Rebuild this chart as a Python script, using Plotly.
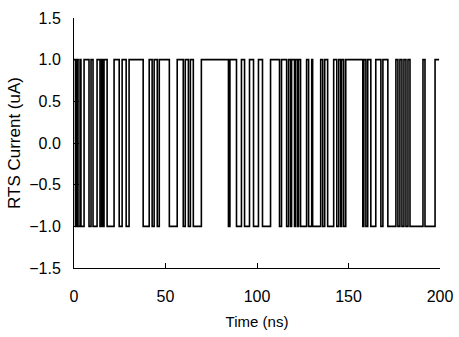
import plotly.graph_objects as go

# Switching times of the random telegraph signal (ns); level alternates starting at +1
switch_times = [0.0, 0.8, 1.4, 2.2, 3.3, 3.8, 5.5, 8.2, 9.3, 10.4, 12.6, 14.2, 15.1, 15.9,
                16.4, 18.1, 21.9, 24.7, 26.3, 28.5, 30.1, 37.8, 41.1, 42.7, 43.8, 45.5,
                46.6, 52.1, 56.4, 59.7, 60.8, 62.5, 63.6, 65.2, 69.6, 84.4, 85.2, 88.8,
                91.5, 93.2, 95.9, 98.1, 100.8, 103.0, 107.4, 112.3, 113.4, 116.2, 117.3,
                118.4, 118.9, 120.5, 121.1, 122.2, 122.7, 123.8, 127.1, 128.2, 129.9,
                130.4, 134.8, 135.9, 137.0, 138.6, 141.9, 143.6, 144.7, 145.8, 146.3,
                147.4, 148.5, 157.8, 158.4, 159.5, 160.5, 162.2, 164.9, 167.7, 168.8,
                171.5, 175.9, 177.0, 178.1, 179.2, 180.3, 181.4, 182.5, 183.6, 190.7,
                191.8, 197.3]
end_time = 199.5
levels = [1.0, -1.0]

x_tick_vals = [0, 50, 100, 150, 200]
x_tick_text = ["0", "50", "100", "150", "200"]
y_tick_vals = [1.5, 1.0, 0.5, 0.0, -0.5, -1.0, -1.5]
y_tick_text = ["1.5", "1.0", "0.5", "0.0", "\u22120.5", "\u22121.0", "\u22121.5"]

xs, ys = [], []
for i, t in enumerate(switch_times):
    xs.append(t)
    ys.append(levels[i % 2])
xs.append(end_time)
ys.append(ys[-1])

fig = go.Figure(go.Scatter(x=xs, y=ys, mode="lines", line=dict(color="black", width=1.6, shape="hv"),
                           showlegend=False))

font = dict(family="Liberation Sans, Arial, sans-serif", size=16, color="black")
fig.update_layout(
    width=459, height=337,
    margin=dict(l=74, r=19, t=18, b=69),
    paper_bgcolor="white", plot_bgcolor="white",
    font=font,
    xaxis=dict(range=[0, 200], tickvals=x_tick_vals, ticktext=x_tick_text, automargin=False,
               showline=True, linecolor="black", linewidth=1, ticks="inside", ticklen=5,
               tickcolor="black", showgrid=False, zeroline=False, ticklabelstandoff=14,
               title=dict(text="Time (ns)", standoff=12, font=dict(size=15))),
    yaxis=dict(range=[-1.5, 1.5], tickvals=y_tick_vals, ticktext=y_tick_text, automargin=False,
               showline=True, linecolor="black", linewidth=1, ticks="inside", ticklen=5,
               tickcolor="black", showgrid=False, zeroline=False, ticklabelstandoff=9,
               title=dict(text="RTS Current (uA)", standoff=4, font=dict(size=17))),
)

fig.write_html("out.html")
